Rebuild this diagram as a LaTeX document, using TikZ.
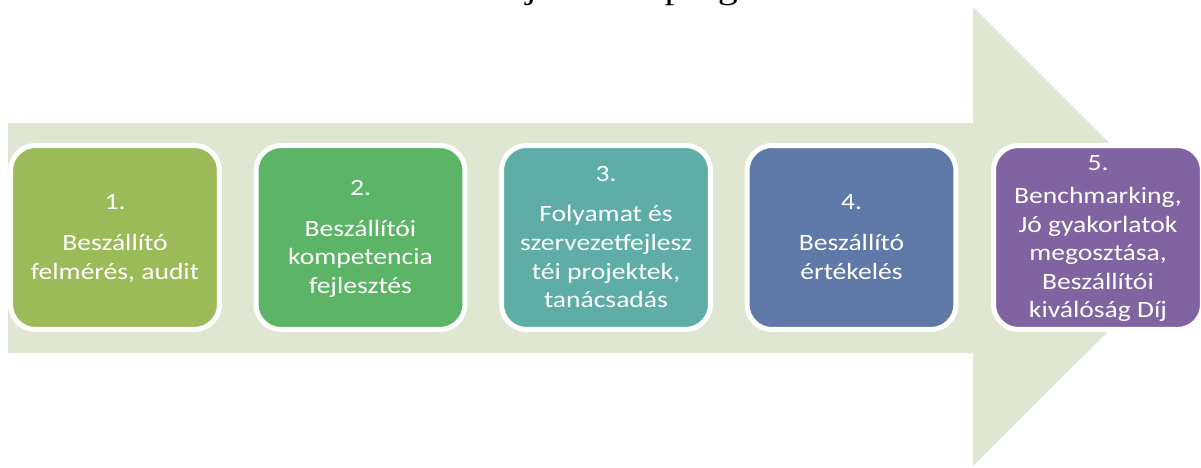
\documentclass[tikz,border=0pt]{standalone}
\usepackage{fontspec}
\usepackage{graphicx}
\setmainfont{Carlito}
\newfontfamily\boxfont{Carlito}
\newfontfamily\titlefont{Liberation Serif}

\definecolor{arrowfill}{HTML}{DFE7D3}
\definecolor{stageA}{HTML}{9BBB59}
\definecolor{stageB}{HTML}{5CB567}
\definecolor{stageC}{HTML}{5EADA6}
\definecolor{stageD}{HTML}{5F79A8}
\definecolor{stageE}{HTML}{8064A2}

% the picture is stretched sideways, so is its text
\newcommand{\wide}[1]{\scalebox{1.18}[1]{#1}}
\newcommand{\topstrut}{\rule{0pt}{10.8pt}}
\newcommand{\botstrut}{\rule[-3pt]{0pt}{3pt}}

\tikzset{
	stage/.style={draw=white, line width=0.1cm, rounded corners=0.5cm,
		minimum width=4.18cm, minimum height=3.68cm, inner sep=0pt,
		text=white, align=center,
		font=\boxfont\fontsize{13.3pt}{16.27pt}\selectfont}
}

\begin{document}
\begin{tikzpicture}[x=0.02cm, y=-0.02cm]
			\useasboundingbox (0,0) rectangle (1201,467);
			
			% title, cut by the top edge
			\begin{scope}
				\clip (0,0) rectangle (1201,467);
				\node[anchor=base west, inner sep=0pt, font=\titlefont\fontsize{19.3pt}{23pt}\selectfont] (title) at (313,-1.5) {\wide{Beszállítói fejlesztési program}};
			\end{scope}
			
			% big arrow
			\fill[arrowfill] (8,123) -- (973,123) -- (973,7) -- (1203,236.5) -- (973,466) -- (973,353) -- (8,353) -- cycle;
			
			\node[stage, fill=stageA] (s1) at (115,237.5) {\topstrut\wide{1.}\\[7pt] \wide{Beszállító}\\ \wide{felmérés, audit}\botstrut};
			\node[stage, fill=stageB] (s2) at (360.5,237.5) {\topstrut\wide{2.}\\[7pt] \wide{Beszállítói}\\ \wide{kompetencia}\\ \wide{fejlesztés}\botstrut};
			\node[stage, fill=stageC] (s3) at (606,237.5) {\topstrut\wide{3.}\\[7pt] \wide{Folyamat és}\\ \wide{szervezetfejlesz}\\ \wide{téi projektek,}\\ \wide{tanácsadás}\botstrut};
			\node[stage, fill=stageD] (s4) at (851.5,237.5) {\topstrut\wide{4.}\\[7pt] \wide{Beszállító}\\ \wide{értékelés}\botstrut};
			\node[stage, fill=stageE] (s5) at (1098,237.5) {\topstrut\wide{5.}\\[2.4pt] \wide{Benchmarking,}\\ \wide{Jó gyakorlatok}\\ \wide{megosztása,}\\ \wide{Beszállítói}\\ \wide{kiválóság Díj}\botstrut};
			
\end{tikzpicture}
\end{document}
